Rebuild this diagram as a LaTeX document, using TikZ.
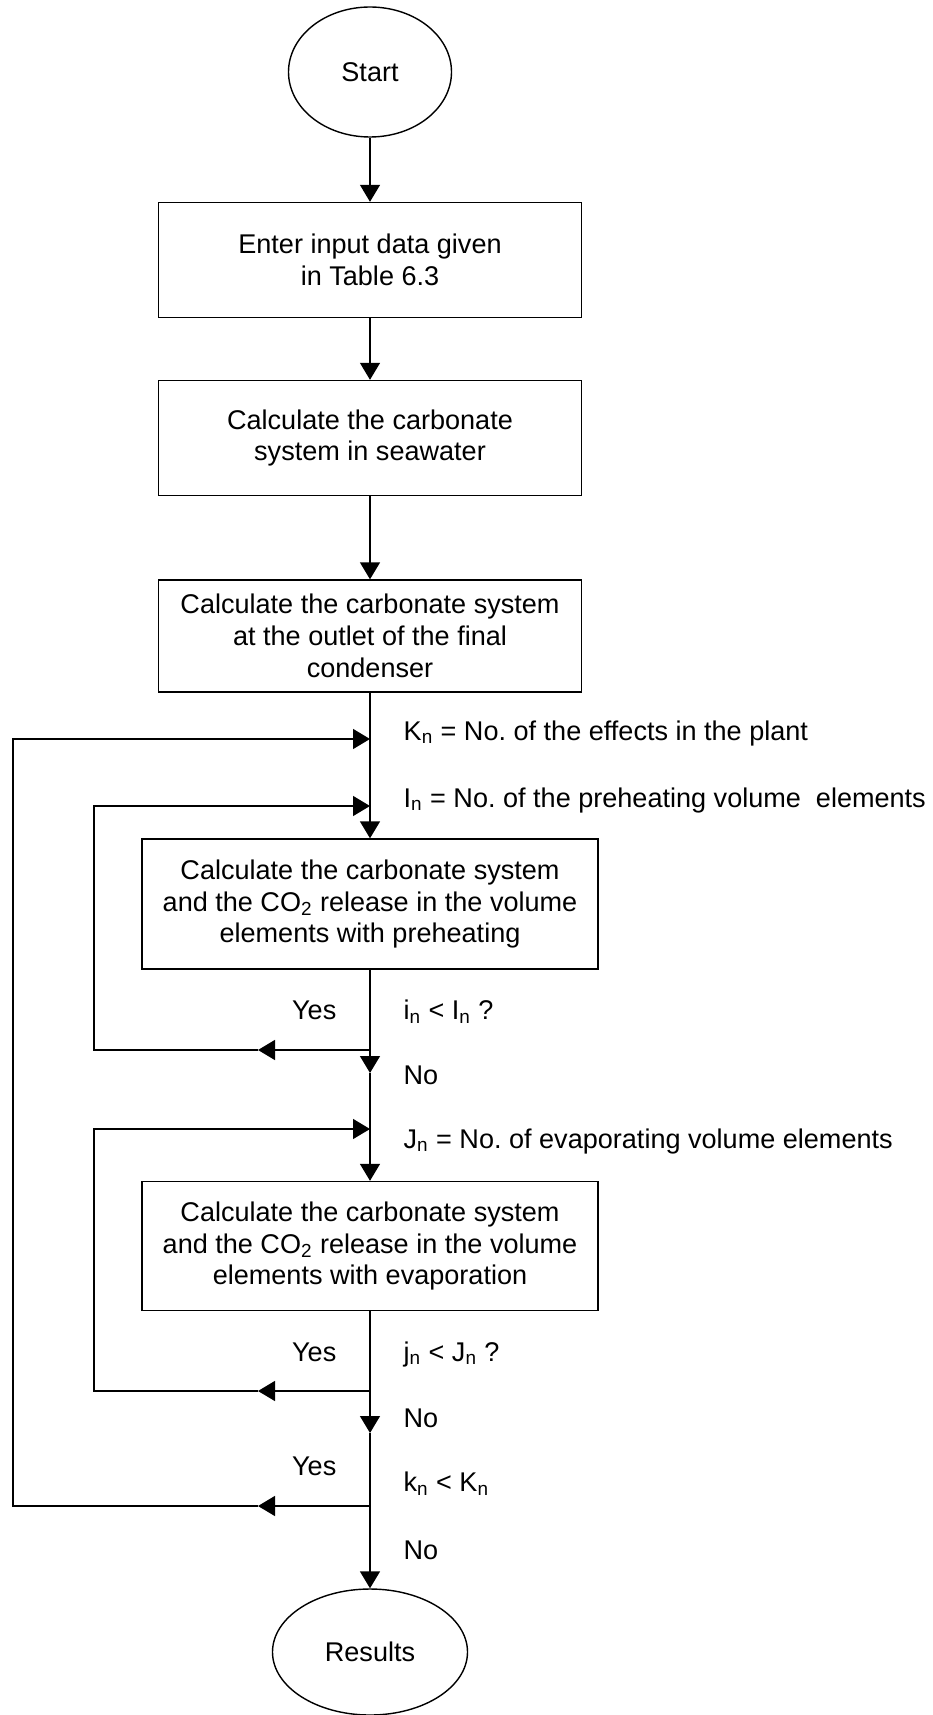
\documentclass[tikz,border=0pt]{standalone}
\usepackage{fontspec}
\setmainfont{Liberation Sans}
\usetikzlibrary{shapes,arrows.meta}
\tikzset{term/.style={ellipse,draw,inner sep=0pt}}
\tikzset{proc/.style={rectangle,draw,align=center,inner sep=0pt}}
\tikzset{lab/.style={inner sep=0pt}}
\frenchspacing

\begin{document}
\begin{tikzpicture}[>={Triangle[length=3.4mm,width=4mm]},line width=0.8pt,font=\fontsize{15.4}{18.2}\selectfont]
    \useasboundingbox (0,0) rectangle (18.66,-34.3);
    \node[term,minimum width=3.26cm,minimum height=2.6cm] (s)at (7.4,-1.44) {Start};
    \node[proc,minimum width=8.46cm,minimum height=2.3cm] (b1)at (7.4,-5.2) {Enter input data given\\in Table 6.3};
    \node[proc,minimum width=8.46cm,minimum height=2.3cm] (b2)at (7.4,-8.76) {Calculate the carbonate\\system in seawater};
    \node[proc,minimum width=8.46cm,minimum height=2.24cm] (b3)at (7.4,-12.72) {Calculate the carbonate system\\at the outlet of the final\\condenser};
    \node[proc,minimum width=9.12cm,minimum height=2.6cm] (b4)at (7.4,-18.08) {Calculate the carbonate system\\and the CO\textsubscript{2} release in the volume\\elements with preheating};
    \node[proc,minimum width=9.12cm,minimum height=2.58cm] (b5)at (7.4,-24.92) {Calculate the carbonate system\\and the CO\textsubscript{2} release in the volume\\elements with evaporation};
    \node[term,minimum width=3.9cm,minimum height=2.52cm] (r)at (7.4,-33.04) {Results};

    \coordinate (kin) at (7.4,-14.78);
    \coordinate (iin) at (7.4,-16.12);
    \coordinate (jin) at (7.4,-22.58);
    \coordinate (ib) at (7.4,-21.0);
    \coordinate (ia) at (5.16,-21.0);
    \coordinate (ic) at (1.88,-21.0);
    \coordinate (ni) at (7.4,-21.46);
    \coordinate (jb) at (7.4,-27.82);
    \coordinate (ja) at (5.16,-27.82);
    \coordinate (jc) at (1.88,-27.82);
    \coordinate (nj) at (7.4,-28.66);
    \coordinate (kb) at (7.4,-30.12);
    \coordinate (ka) at (5.16,-30.12);
    \coordinate (kc) at (0.26,-30.12);

    \node[lab,anchor=west] (tk)at (8.06,-14.66) {K\textsubscript{n} = No. of the effects in the plant};
    \node[lab,anchor=west] (ti)at (8.06,-16.0) {I\textsubscript{n} = No. of the preheating volume~ elements};
    \node[lab,anchor=west] (qi)at (8.06,-20.24) {i\textsubscript{n} < I\textsubscript{n} ?};
    \node[lab,anchor=east] (yi)at (6.74,-20.2) {Yes};
    \node[lab,anchor=west] (no1)at (8.06,-21.5) {No};
    \node[lab,anchor=west] (tj)at (8.06,-22.82) {J\textsubscript{n} = No. of evaporating volume elements};
    \node[lab,anchor=west] (qj)at (8.06,-27.08) {j\textsubscript{n} < J\textsubscript{n} ?};
    \node[lab,anchor=east] (yj)at (6.74,-27.04) {Yes};
    \node[lab,anchor=west] (no2)at (8.06,-28.36) {No};
    \node[lab,anchor=west] (qk)at (8.06,-29.68) {k\textsubscript{n} < K\textsubscript{n}};
    \node[lab,anchor=east] (yk)at (6.74,-29.32) {Yes};
    \node[lab,anchor=west] (no3)at (8.06,-31.0) {No};

    \draw [->] (s) -- (b1);
    \draw [->] (b1) -- (b2);
    \draw [->] (b2) -- (b3);
    \draw [->] (b3) -- (b4);
    \draw [->] (b4) -- (ni);
    \draw [->] (ni) -- (b5);
    \draw [->] (b5) -- (nj);
    \draw [->] (nj) -- (r);

    \draw [->] (ib) -- (ia);
    \draw [->] (ia) -- (ic) |- (iin);
    \draw [->] (jb) -- (ja);
    \draw [->] (ja) -- (jc) |- (jin);
    \draw [->] (kb) -- (ka);
    \draw [->] (ka) -- (kc) |- (kin);
\end{tikzpicture}
\end{document}
